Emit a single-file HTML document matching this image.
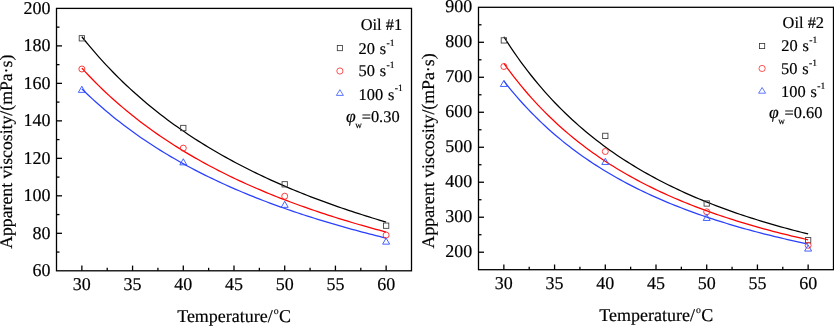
<!DOCTYPE html>
<html><head><meta charset="utf-8"><style>
html,body{margin:0;padding:0;background:#fff;}
svg{display:block;will-change:transform;text-rendering:geometricPrecision;}
text{font-family:"Liberation Serif", serif;fill:#000;stroke:#000;stroke-width:0.18px;}
</style></head><body>
<svg width="834" height="326" viewBox="0 0 834 326">
<rect width="834" height="326" fill="#fff"/>
<path d="M81.86,36.76 L85.28,41.01 L88.70,45.16 L92.11,49.22 L95.53,53.18 L98.95,57.06 L102.37,60.85 L105.79,64.55 L109.21,68.18 L112.63,71.73 L116.05,75.20 L119.47,78.60 L122.88,81.93 L126.30,85.19 L129.72,88.38 L133.14,91.51 L136.56,94.58 L139.98,97.58 L143.40,100.53 L146.82,103.42 L150.24,106.25 L153.65,109.03 L157.07,111.76 L160.49,114.43 L163.91,117.06 L167.33,119.63 L170.75,122.16 L174.17,124.65 L177.59,127.09 L181.01,129.48 L184.43,131.84 L187.84,134.15 L191.26,136.42 L194.68,138.65 L198.10,140.85 L201.52,143.01 L204.94,145.13 L208.36,147.21 L211.78,149.27 L215.20,151.28 L218.61,153.27 L222.03,155.22 L225.45,157.14 L228.87,159.03 L232.29,160.89 L235.71,162.72 L239.13,164.53 L242.55,166.30 L245.97,168.05 L249.39,169.77 L252.80,171.47 L256.22,173.14 L259.64,174.78 L263.06,176.40 L266.48,178.00 L269.90,179.57 L273.32,181.12 L276.74,182.65 L280.16,184.16 L283.57,185.64 L286.99,187.10 L290.41,188.55 L293.83,189.97 L297.25,191.37 L300.67,192.76 L304.09,194.12 L307.51,195.47 L310.93,196.80 L314.35,198.11 L317.76,199.40 L321.18,200.68 L324.60,201.94 L328.02,203.18 L331.44,204.41 L334.86,205.62 L338.28,206.82 L341.70,208.00 L345.12,209.16 L348.53,210.31 L351.95,211.45 L355.37,212.57 L358.79,213.68 L362.21,214.77 L365.63,215.86 L369.05,216.92 L372.47,217.98 L375.89,219.02 L379.30,220.05 L382.72,221.07 L386.14,222.07" fill="none" stroke="#000" stroke-width="1.25"/>
<path d="M81.86,68.15 L85.28,71.85 L88.70,75.48 L92.11,79.02 L95.53,82.48 L98.95,85.87 L102.37,89.19 L105.79,92.43 L109.21,95.60 L112.63,98.71 L116.05,101.75 L119.47,104.73 L122.88,107.65 L126.30,110.52 L129.72,113.32 L133.14,116.07 L136.56,118.76 L139.98,121.40 L143.40,123.99 L146.82,126.54 L150.24,129.03 L153.65,131.48 L157.07,133.88 L160.49,136.24 L163.91,138.55 L167.33,140.82 L170.75,143.06 L174.17,145.25 L177.59,147.40 L181.01,149.52 L184.43,151.60 L187.84,153.64 L191.26,155.65 L194.68,157.63 L198.10,159.57 L201.52,161.48 L204.94,163.36 L208.36,165.21 L211.78,167.02 L215.20,168.81 L218.61,170.57 L222.03,172.31 L225.45,174.01 L228.87,175.69 L232.29,177.34 L235.71,178.97 L239.13,180.57 L242.55,182.15 L245.97,183.70 L249.39,185.23 L252.80,186.74 L256.22,188.23 L259.64,189.69 L263.06,191.14 L266.48,192.56 L269.90,193.96 L273.32,195.34 L276.74,196.71 L280.16,198.05 L283.57,199.38 L286.99,200.68 L290.41,201.97 L293.83,203.24 L297.25,204.50 L300.67,205.73 L304.09,206.96 L307.51,208.16 L310.93,209.35 L314.35,210.52 L317.76,211.68 L321.18,212.82 L324.60,213.95 L328.02,215.06 L331.44,216.16 L334.86,217.25 L338.28,218.32 L341.70,219.38 L345.12,220.42 L348.53,221.46 L351.95,222.48 L355.37,223.48 L358.79,224.48 L362.21,225.46 L365.63,226.43 L369.05,227.39 L372.47,228.34 L375.89,229.28 L379.30,230.21 L382.72,231.12 L386.14,232.03" fill="none" stroke="#ff0000" stroke-width="1.25"/>
<path d="M81.86,88.85 L85.28,92.18 L88.70,95.45 L92.11,98.64 L95.53,101.76 L98.95,104.82 L102.37,107.81 L105.79,110.73 L109.21,113.60 L112.63,116.41 L116.05,119.16 L119.47,121.85 L122.88,124.49 L126.30,127.08 L129.72,129.62 L133.14,132.10 L136.56,134.54 L139.98,136.94 L143.40,139.29 L146.82,141.59 L150.24,143.85 L153.65,146.07 L157.07,148.25 L160.49,150.39 L163.91,152.50 L167.33,154.56 L170.75,156.59 L174.17,158.58 L177.59,160.54 L181.01,162.47 L184.43,164.36 L187.84,166.22 L191.26,168.05 L194.68,169.85 L198.10,171.62 L201.52,173.36 L204.94,175.08 L208.36,176.76 L211.78,178.42 L215.20,180.05 L218.61,181.66 L222.03,183.24 L225.45,184.80 L228.87,186.33 L232.29,187.84 L235.71,189.33 L239.13,190.80 L242.55,192.24 L245.97,193.66 L249.39,195.07 L252.80,196.45 L256.22,197.81 L259.64,199.15 L263.06,200.47 L266.48,201.78 L269.90,203.06 L273.32,204.33 L276.74,205.58 L280.16,206.81 L283.57,208.03 L286.99,209.23 L290.41,210.41 L293.83,211.58 L297.25,212.73 L300.67,213.87 L304.09,214.99 L307.51,216.10 L310.93,217.19 L314.35,218.27 L317.76,219.34 L321.18,220.39 L324.60,221.43 L328.02,222.45 L331.44,223.47 L334.86,224.47 L338.28,225.45 L341.70,226.43 L345.12,227.39 L348.53,228.35 L351.95,229.29 L355.37,230.22 L358.79,231.13 L362.21,232.04 L365.63,232.94 L369.05,233.83 L372.47,234.70 L375.89,235.57 L379.30,236.42 L382.72,237.27 L386.14,238.11" fill="none" stroke="#2a40ff" stroke-width="1.25"/>
<rect x="79.21" y="35.65" width="5.30" height="5.30" fill="none" stroke="#444" stroke-width="0.9"/>
<rect x="180.64" y="125.35" width="5.30" height="5.30" fill="none" stroke="#444" stroke-width="0.9"/>
<rect x="282.06" y="181.65" width="5.30" height="5.30" fill="none" stroke="#444" stroke-width="0.9"/>
<rect x="383.49" y="223.05" width="5.30" height="5.30" fill="none" stroke="#444" stroke-width="0.9"/>
<circle cx="81.86" cy="69.00" r="3.00" fill="none" stroke="#ff2a2a" stroke-width="0.9"/>
<circle cx="183.29" cy="148.10" r="3.00" fill="none" stroke="#ff2a2a" stroke-width="0.9"/>
<circle cx="284.71" cy="196.20" r="3.00" fill="none" stroke="#ff2a2a" stroke-width="0.9"/>
<circle cx="386.14" cy="235.10" r="3.00" fill="none" stroke="#ff2a2a" stroke-width="0.9"/>
<path d="M81.86,86.25 L85.36,92.35 L78.36,92.35 Z" fill="none" stroke="#3050ff" stroke-width="0.9" stroke-linejoin="round"/>
<path d="M183.29,158.75 L186.79,164.85 L179.79,164.85 Z" fill="none" stroke="#3050ff" stroke-width="0.9" stroke-linejoin="round"/>
<path d="M284.71,201.25 L288.21,207.35 L281.21,207.35 Z" fill="none" stroke="#3050ff" stroke-width="0.9" stroke-linejoin="round"/>
<path d="M386.14,238.05 L389.64,244.15 L382.64,244.15 Z" fill="none" stroke="#3050ff" stroke-width="0.9" stroke-linejoin="round"/>
<rect x="56.5" y="8.4" width="355" height="262.4" fill="none" stroke="#000" stroke-width="1.3"/>
<line x1="56.5" y1="252.06" x2="59.5" y2="252.06" stroke="#000" stroke-width="1.3"/>
<line x1="56.5" y1="233.31" x2="62.0" y2="233.31" stroke="#000" stroke-width="1.3"/>
<line x1="56.5" y1="214.57" x2="59.5" y2="214.57" stroke="#000" stroke-width="1.3"/>
<line x1="56.5" y1="195.83" x2="62.0" y2="195.83" stroke="#000" stroke-width="1.3"/>
<line x1="56.5" y1="177.09" x2="59.5" y2="177.09" stroke="#000" stroke-width="1.3"/>
<line x1="56.5" y1="158.34" x2="62.0" y2="158.34" stroke="#000" stroke-width="1.3"/>
<line x1="56.5" y1="139.60" x2="59.5" y2="139.60" stroke="#000" stroke-width="1.3"/>
<line x1="56.5" y1="120.86" x2="62.0" y2="120.86" stroke="#000" stroke-width="1.3"/>
<line x1="56.5" y1="102.11" x2="59.5" y2="102.11" stroke="#000" stroke-width="1.3"/>
<line x1="56.5" y1="83.37" x2="62.0" y2="83.37" stroke="#000" stroke-width="1.3"/>
<line x1="56.5" y1="64.63" x2="59.5" y2="64.63" stroke="#000" stroke-width="1.3"/>
<line x1="56.5" y1="45.89" x2="62.0" y2="45.89" stroke="#000" stroke-width="1.3"/>
<line x1="56.5" y1="27.14" x2="59.5" y2="27.14" stroke="#000" stroke-width="1.3"/>
<text x="50.60" y="276.00" text-anchor="end" font-size="18" letter-spacing="0">60</text>
<text x="50.60" y="238.51" text-anchor="end" font-size="18" letter-spacing="0">80</text>
<text x="50.60" y="201.03" text-anchor="end" font-size="18" letter-spacing="0">100</text>
<text x="50.60" y="163.54" text-anchor="end" font-size="18" letter-spacing="0">120</text>
<text x="50.60" y="126.06" text-anchor="end" font-size="18" letter-spacing="0">140</text>
<text x="50.60" y="88.57" text-anchor="end" font-size="18" letter-spacing="0">160</text>
<text x="50.60" y="51.09" text-anchor="end" font-size="18" letter-spacing="0">180</text>
<text x="50.60" y="13.60" text-anchor="end" font-size="18" letter-spacing="0">200</text>
<line x1="81.86" y1="270.79999999999995" x2="81.86" y2="265.59999999999997" stroke="#000" stroke-width="1.3"/>
<text x="81.86" y="290.1" text-anchor="middle" font-size="18" letter-spacing="0">30</text>
<line x1="107.21" y1="270.79999999999995" x2="107.21" y2="267.79999999999995" stroke="#000" stroke-width="1.3"/>
<line x1="132.57" y1="270.79999999999995" x2="132.57" y2="265.59999999999997" stroke="#000" stroke-width="1.3"/>
<text x="132.57" y="290.1" text-anchor="middle" font-size="18" letter-spacing="0">35</text>
<line x1="157.93" y1="270.79999999999995" x2="157.93" y2="267.79999999999995" stroke="#000" stroke-width="1.3"/>
<line x1="183.29" y1="270.79999999999995" x2="183.29" y2="265.59999999999997" stroke="#000" stroke-width="1.3"/>
<text x="183.29" y="290.1" text-anchor="middle" font-size="18" letter-spacing="0">40</text>
<line x1="208.64" y1="270.79999999999995" x2="208.64" y2="267.79999999999995" stroke="#000" stroke-width="1.3"/>
<line x1="234.00" y1="270.79999999999995" x2="234.00" y2="265.59999999999997" stroke="#000" stroke-width="1.3"/>
<text x="234.00" y="290.1" text-anchor="middle" font-size="18" letter-spacing="0">45</text>
<line x1="259.36" y1="270.79999999999995" x2="259.36" y2="267.79999999999995" stroke="#000" stroke-width="1.3"/>
<line x1="284.71" y1="270.79999999999995" x2="284.71" y2="265.59999999999997" stroke="#000" stroke-width="1.3"/>
<text x="284.71" y="290.1" text-anchor="middle" font-size="18" letter-spacing="0">50</text>
<line x1="310.07" y1="270.79999999999995" x2="310.07" y2="267.79999999999995" stroke="#000" stroke-width="1.3"/>
<line x1="335.43" y1="270.79999999999995" x2="335.43" y2="265.59999999999997" stroke="#000" stroke-width="1.3"/>
<text x="335.43" y="290.1" text-anchor="middle" font-size="18" letter-spacing="0">55</text>
<line x1="360.79" y1="270.79999999999995" x2="360.79" y2="267.79999999999995" stroke="#000" stroke-width="1.3"/>
<line x1="386.14" y1="270.79999999999995" x2="386.14" y2="265.59999999999997" stroke="#000" stroke-width="1.3"/>
<text x="386.14" y="290.1" text-anchor="middle" font-size="18" letter-spacing="0">60</text>
<text transform="translate(12.3,151.75) rotate(-90)" text-anchor="middle" font-size="17.7">Apparent viscosity/(mPa·s)</text>
<text x="234.1" y="321.9" text-anchor="middle" font-size="18">Temperature/<tspan font-size="9.8" dy="-7.9" dx="0.9">o</tspan><tspan dy="7.9" dx="0.4">C</tspan></text>
<text x="360.7" y="29.8" font-size="16.4">Oil #1</text>
<rect x="337.30" y="45.50" width="5.20" height="5.20" fill="none" stroke="#333" stroke-width="0.8"/>
<text x="358.5" y="53.9" font-size="16.4">20<tspan dx="0.8"> s</tspan><tspan font-size="9.6" dy="-8.2" dx="0.4">-1</tspan></text>
<circle cx="339.90" cy="71.00" r="3.10" fill="none" stroke="#ff2a2a" stroke-width="0.8"/>
<text x="358.5" y="76.4" font-size="16.4">50<tspan dx="0.8"> s</tspan><tspan font-size="9.6" dy="-8.2" dx="0.4">-1</tspan></text>
<path d="M339.90,89.70 L343.40,95.40 L336.40,95.40 Z" fill="none" stroke="#3355ff" stroke-width="0.8" stroke-linejoin="round"/>
<text x="358.5" y="99.6" font-size="16.4">100<tspan dx="0.8"> s</tspan><tspan font-size="9.6" dy="-8.2" dx="0.4">-1</tspan></text>
<text x="346" y="122.2" font-size="16.4"><tspan font-style="italic" font-size="17.6">φ</tspan><tspan font-size="9.2" dy="6" dx="-0.5">w</tspan><tspan dy="-6" dx="-0.2">=0.30</tspan></text>
<path d="M503.86,36.78 L507.28,42.13 L510.70,47.32 L514.11,52.36 L517.53,57.26 L520.95,62.02 L524.37,66.64 L527.79,71.13 L531.21,75.50 L534.63,79.75 L538.05,83.88 L541.47,87.90 L544.88,91.82 L548.30,95.63 L551.72,99.34 L555.14,102.96 L558.56,106.49 L561.98,109.92 L565.40,113.27 L568.82,116.54 L572.24,119.72 L575.65,122.83 L579.07,125.86 L582.49,128.82 L585.91,131.71 L589.33,134.53 L592.75,137.29 L596.17,139.98 L599.59,142.61 L603.01,145.18 L606.43,147.69 L609.84,150.15 L613.26,152.55 L616.68,154.90 L620.10,157.19 L623.52,159.44 L626.94,161.64 L630.36,163.79 L633.78,165.90 L637.20,167.96 L640.61,169.98 L644.03,171.96 L647.45,173.90 L650.87,175.79 L654.29,177.65 L657.71,179.48 L661.13,181.26 L664.55,183.01 L667.97,184.73 L671.39,186.41 L674.80,188.06 L678.22,189.68 L681.64,191.27 L685.06,192.83 L688.48,194.35 L691.90,195.85 L695.32,197.33 L698.74,198.77 L702.16,200.19 L705.57,201.58 L708.99,202.95 L712.41,204.29 L715.83,205.61 L719.25,206.91 L722.67,208.18 L726.09,209.43 L729.51,210.66 L732.93,211.87 L736.35,213.06 L739.76,214.23 L743.18,215.37 L746.60,216.50 L750.02,217.61 L753.44,218.70 L756.86,219.77 L760.28,220.83 L763.70,221.87 L767.12,222.89 L770.53,223.89 L773.95,224.88 L777.37,225.86 L780.79,226.81 L784.21,227.76 L787.63,228.69 L791.05,229.60 L794.47,230.50 L797.89,231.38 L801.30,232.26 L804.72,233.12 L808.14,233.96" fill="none" stroke="#000" stroke-width="1.25"/>
<path d="M503.86,63.32 L507.28,68.05 L510.70,72.65 L514.11,77.11 L517.53,81.45 L520.95,85.66 L524.37,89.76 L527.79,93.75 L531.21,97.62 L534.63,101.39 L538.05,105.07 L541.47,108.64 L544.88,112.12 L548.30,115.51 L551.72,118.81 L555.14,122.03 L558.56,125.17 L561.98,128.23 L565.40,131.22 L568.82,134.13 L572.24,136.97 L575.65,139.74 L579.07,142.45 L582.49,145.09 L585.91,147.67 L589.33,150.19 L592.75,152.65 L596.17,155.06 L599.59,157.41 L603.01,159.71 L606.43,161.96 L609.84,164.16 L613.26,166.31 L616.68,168.41 L620.10,170.47 L623.52,172.49 L626.94,174.46 L630.36,176.39 L633.78,178.28 L637.20,180.14 L640.61,181.95 L644.03,183.73 L647.45,185.47 L650.87,187.17 L654.29,188.85 L657.71,190.49 L661.13,192.09 L664.55,193.67 L667.97,195.21 L671.39,196.73 L674.80,198.22 L678.22,199.68 L681.64,201.11 L685.06,202.51 L688.48,203.89 L691.90,205.24 L695.32,206.57 L698.74,207.88 L702.16,209.16 L705.57,210.42 L708.99,211.65 L712.41,212.87 L715.83,214.06 L719.25,215.23 L722.67,216.39 L726.09,217.52 L729.51,218.63 L732.93,219.72 L736.35,220.80 L739.76,221.86 L743.18,222.90 L746.60,223.92 L750.02,224.93 L753.44,225.91 L756.86,226.89 L760.28,227.85 L763.70,228.79 L767.12,229.72 L770.53,230.63 L773.95,231.53 L777.37,232.41 L780.79,233.28 L784.21,234.14 L787.63,234.98 L791.05,235.81 L794.47,236.63 L797.89,237.44 L801.30,238.23 L804.72,239.01 L808.14,239.78" fill="none" stroke="#ff0000" stroke-width="1.25"/>
<path d="M503.86,80.97 L507.28,85.31 L510.70,89.53 L514.11,93.62 L517.53,97.61 L520.95,101.48 L524.37,105.24 L527.79,108.90 L531.21,112.47 L534.63,115.93 L538.05,119.31 L541.47,122.60 L544.88,125.80 L548.30,128.92 L551.72,131.96 L555.14,134.93 L558.56,137.82 L561.98,140.64 L565.40,143.39 L568.82,146.07 L572.24,148.69 L575.65,151.25 L579.07,153.75 L582.49,156.18 L585.91,158.57 L589.33,160.89 L592.75,163.17 L596.17,165.39 L599.59,167.56 L603.01,169.69 L606.43,171.77 L609.84,173.80 L613.26,175.79 L616.68,177.73 L620.10,179.64 L623.52,181.50 L626.94,183.33 L630.36,185.11 L633.78,186.86 L637.20,188.58 L640.61,190.26 L644.03,191.90 L647.45,193.52 L650.87,195.10 L654.29,196.65 L657.71,198.17 L661.13,199.66 L664.55,201.12 L667.97,202.55 L671.39,203.96 L674.80,205.34 L678.22,206.69 L681.64,208.02 L685.06,209.33 L688.48,210.61 L691.90,211.86 L695.32,213.10 L698.74,214.31 L702.16,215.50 L705.57,216.67 L708.99,217.82 L712.41,218.95 L715.83,220.06 L719.25,221.15 L722.67,222.22 L726.09,223.27 L729.51,224.31 L732.93,225.32 L736.35,226.33 L739.76,227.31 L743.18,228.28 L746.60,229.23 L750.02,230.17 L753.44,231.09 L756.86,232.00 L760.28,232.89 L763.70,233.77 L767.12,234.63 L770.53,235.48 L773.95,236.32 L777.37,237.14 L780.79,237.96 L784.21,238.75 L787.63,239.54 L791.05,240.32 L794.47,241.08 L797.89,241.83 L801.30,242.57 L804.72,243.30 L808.14,244.02" fill="none" stroke="#2a40ff" stroke-width="1.25"/>
<rect x="501.21" y="37.75" width="5.30" height="5.30" fill="none" stroke="#444" stroke-width="0.9"/>
<rect x="602.64" y="133.25" width="5.30" height="5.30" fill="none" stroke="#444" stroke-width="0.9"/>
<rect x="704.06" y="200.85" width="5.30" height="5.30" fill="none" stroke="#444" stroke-width="0.9"/>
<rect x="805.49" y="237.55" width="5.30" height="5.30" fill="none" stroke="#444" stroke-width="0.9"/>
<circle cx="503.86" cy="66.50" r="3.00" fill="none" stroke="#ff2a2a" stroke-width="0.9"/>
<circle cx="605.29" cy="151.50" r="3.00" fill="none" stroke="#ff2a2a" stroke-width="0.9"/>
<circle cx="706.71" cy="211.80" r="3.00" fill="none" stroke="#ff2a2a" stroke-width="0.9"/>
<circle cx="808.14" cy="245.30" r="3.00" fill="none" stroke="#ff2a2a" stroke-width="0.9"/>
<path d="M503.86,80.35 L507.36,86.45 L500.36,86.45 Z" fill="none" stroke="#3050ff" stroke-width="0.9" stroke-linejoin="round"/>
<path d="M605.29,158.35 L608.79,164.45 L601.79,164.45 Z" fill="none" stroke="#3050ff" stroke-width="0.9" stroke-linejoin="round"/>
<path d="M706.71,214.35 L710.21,220.45 L703.21,220.45 Z" fill="none" stroke="#3050ff" stroke-width="0.9" stroke-linejoin="round"/>
<path d="M808.14,244.95 L811.64,251.05 L804.64,251.05 Z" fill="none" stroke="#3050ff" stroke-width="0.9" stroke-linejoin="round"/>
<rect x="478.5" y="7.3" width="355" height="262.4" fill="none" stroke="#000" stroke-width="1.3"/>
<line x1="478.5" y1="252.21" x2="484.0" y2="252.21" stroke="#000" stroke-width="1.3"/>
<line x1="478.5" y1="234.71" x2="481.5" y2="234.71" stroke="#000" stroke-width="1.3"/>
<line x1="478.5" y1="217.22" x2="484.0" y2="217.22" stroke="#000" stroke-width="1.3"/>
<line x1="478.5" y1="199.73" x2="481.5" y2="199.73" stroke="#000" stroke-width="1.3"/>
<line x1="478.5" y1="182.23" x2="484.0" y2="182.23" stroke="#000" stroke-width="1.3"/>
<line x1="478.5" y1="164.74" x2="481.5" y2="164.74" stroke="#000" stroke-width="1.3"/>
<line x1="478.5" y1="147.25" x2="484.0" y2="147.25" stroke="#000" stroke-width="1.3"/>
<line x1="478.5" y1="129.75" x2="481.5" y2="129.75" stroke="#000" stroke-width="1.3"/>
<line x1="478.5" y1="112.26" x2="484.0" y2="112.26" stroke="#000" stroke-width="1.3"/>
<line x1="478.5" y1="94.77" x2="481.5" y2="94.77" stroke="#000" stroke-width="1.3"/>
<line x1="478.5" y1="77.27" x2="484.0" y2="77.27" stroke="#000" stroke-width="1.3"/>
<line x1="478.5" y1="59.78" x2="481.5" y2="59.78" stroke="#000" stroke-width="1.3"/>
<line x1="478.5" y1="42.29" x2="484.0" y2="42.29" stroke="#000" stroke-width="1.3"/>
<line x1="478.5" y1="24.79" x2="481.5" y2="24.79" stroke="#000" stroke-width="1.3"/>
<text x="472.20" y="256.91" text-anchor="end" font-size="18" letter-spacing="0">200</text>
<text x="472.20" y="221.92" text-anchor="end" font-size="18" letter-spacing="0">300</text>
<text x="472.20" y="186.93" text-anchor="end" font-size="18" letter-spacing="0">400</text>
<text x="472.20" y="151.95" text-anchor="end" font-size="18" letter-spacing="0">500</text>
<text x="472.20" y="116.96" text-anchor="end" font-size="18" letter-spacing="0">600</text>
<text x="472.20" y="81.97" text-anchor="end" font-size="18" letter-spacing="0">700</text>
<text x="472.20" y="46.99" text-anchor="end" font-size="18" letter-spacing="0">800</text>
<text x="472.20" y="12.00" text-anchor="end" font-size="18" letter-spacing="0">900</text>
<line x1="503.86" y1="269.7" x2="503.86" y2="264.5" stroke="#000" stroke-width="1.3"/>
<text x="503.86" y="289.4" text-anchor="middle" font-size="18" letter-spacing="0">30</text>
<line x1="529.21" y1="269.7" x2="529.21" y2="266.7" stroke="#000" stroke-width="1.3"/>
<line x1="554.57" y1="269.7" x2="554.57" y2="264.5" stroke="#000" stroke-width="1.3"/>
<text x="554.57" y="289.4" text-anchor="middle" font-size="18" letter-spacing="0">35</text>
<line x1="579.93" y1="269.7" x2="579.93" y2="266.7" stroke="#000" stroke-width="1.3"/>
<line x1="605.29" y1="269.7" x2="605.29" y2="264.5" stroke="#000" stroke-width="1.3"/>
<text x="605.29" y="289.4" text-anchor="middle" font-size="18" letter-spacing="0">40</text>
<line x1="630.64" y1="269.7" x2="630.64" y2="266.7" stroke="#000" stroke-width="1.3"/>
<line x1="656.00" y1="269.7" x2="656.00" y2="264.5" stroke="#000" stroke-width="1.3"/>
<text x="656.00" y="289.4" text-anchor="middle" font-size="18" letter-spacing="0">45</text>
<line x1="681.36" y1="269.7" x2="681.36" y2="266.7" stroke="#000" stroke-width="1.3"/>
<line x1="706.71" y1="269.7" x2="706.71" y2="264.5" stroke="#000" stroke-width="1.3"/>
<text x="706.71" y="289.4" text-anchor="middle" font-size="18" letter-spacing="0">50</text>
<line x1="732.07" y1="269.7" x2="732.07" y2="266.7" stroke="#000" stroke-width="1.3"/>
<line x1="757.43" y1="269.7" x2="757.43" y2="264.5" stroke="#000" stroke-width="1.3"/>
<text x="757.43" y="289.4" text-anchor="middle" font-size="18" letter-spacing="0">55</text>
<line x1="782.79" y1="269.7" x2="782.79" y2="266.7" stroke="#000" stroke-width="1.3"/>
<line x1="808.14" y1="269.7" x2="808.14" y2="264.5" stroke="#000" stroke-width="1.3"/>
<text x="808.14" y="289.4" text-anchor="middle" font-size="18" letter-spacing="0">60</text>
<text transform="translate(434.1,150.9) rotate(-90)" text-anchor="middle" font-size="17.8">Apparent viscosity/(mPa·s)</text>
<text x="656.3" y="320.7" text-anchor="middle" font-size="18">Temperature/<tspan font-size="9.8" dy="-7.9" dx="0.9">o</tspan><tspan dy="7.9" dx="0.4">C</tspan></text>
<text x="782.6" y="28.1" font-size="16.4">Oil #2</text>
<rect x="759.50" y="43.40" width="5.20" height="5.20" fill="none" stroke="#333" stroke-width="0.8"/>
<text x="781.2" y="51.1" font-size="16.4">20<tspan dx="0.8"> s</tspan><tspan font-size="9.6" dy="-8.2" dx="0.4">-1</tspan></text>
<circle cx="762.10" cy="68.45" r="3.10" fill="none" stroke="#ff2a2a" stroke-width="0.8"/>
<text x="781.0" y="74.4" font-size="16.4">50<tspan dx="0.8"> s</tspan><tspan font-size="9.6" dy="-8.2" dx="0.4">-1</tspan></text>
<path d="M762.10,87.50 L765.60,93.20 L758.60,93.20 Z" fill="none" stroke="#3355ff" stroke-width="0.8" stroke-linejoin="round"/>
<text x="781.0" y="96.7" font-size="16.4">100<tspan dx="0.8"> s</tspan><tspan font-size="9.6" dy="-8.2" dx="0.4">-1</tspan></text>
<text x="768.9" y="118.3" font-size="16.4"><tspan font-style="italic" font-size="17.6">φ</tspan><tspan font-size="9.2" dy="6" dx="-0.5">w</tspan><tspan dy="-6" dx="-0.2">=0.60</tspan></text>
</svg>
</body></html>
